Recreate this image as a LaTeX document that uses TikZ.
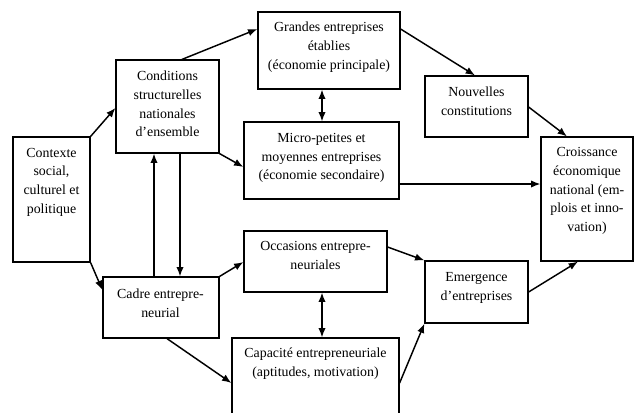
\documentclass[tikz,border=0pt]{standalone}
\usepackage{fontspec}
\setmainfont{Liberation Serif}
\usetikzlibrary{arrows.meta,fit}
\begin{document}
\begin{tikzpicture}[x=0.75pt,y=-0.75pt,
 box/.style={draw,line width=0.9pt,inner sep=0pt},
 txt/.style={align=center,font=\fontsize{10.4}{14}\selectfont,inner sep=0pt},
 arr/.style={-{Latex[length=7pt,width=5.5pt]},line width=1.1pt},
 darr/.style={{Latex[length=7pt,width=5.5pt]}-{Latex[length=7pt,width=5.5pt]},line width=1.1pt}]
\useasboundingbox (0,0) rectangle (635,412);
\clip (0,0) rectangle (635,412);
% boxes
\node[box, fit={(13,137) (90,262)}] (ctx) {};
\node[box, fit={(116,60) (219,153)}] (cond) {};
\node[box, fit={(258,12) (400,89)}] (gde) {};
\node[box, fit={(244,122) (399,199)}] (micro) {};
\node[box, fit={(425,76) (528,137)}] (nouv) {};
\node[box, fit={(541,137) (633,261)}] (crois) {};
\node[box, fit={(103,277) (219,338)}] (cadre) {};
\node[box, fit={(244,231) (387,292)}] (occ) {};
\node[box, fit={(232,338) (399,420)}] (cap) {};
\node[box, fit={(425,261) (528,323)}] (emer) {};
% texts
\node[txt] (ctxt) at (51.5,182) {Contexte\\social,\\culturel et\\politique};
\node[txt] (condt) at (167.5,104) {Conditions\\structurelles\\nationales\\d’ensemble};
\node[txt] (gdet) at (329,47) {Grandes entreprises\\établies\\(économie principale)};
\node[txt] (microt) at (321.5,158) {Micro-petites et\\moyennes entreprises\\(économie secondaire)};
\node[txt] (nouvt) at (476.5,101.5) {Nouvelles\\constitutions};
\node[txt] (croist) at (587,191) {Croissance\\économique\\national (em-\\plois et inno-\\vation)};
\node[txt] (cadret) at (160.5,303.5) {Cadre entrepre-\\neurial};
\node[txt] (occt) at (315.5,255.5) {Occasions entrepre-\\neuriales};
\node[txt] (capt) at (315.5,363.5) {Capacité entrepreneuriale\\(aptitudes, motivation)};
\node[txt] (emert) at (476.5,288) {Emergence\\d’entreprises};
% connectors
\draw[arr] (ctx.north east) -- (cond.west |- 0,108);
\draw[arr] (182,0 |- cond.north) -- (gde.west |- 0,29);
\draw[arr] (cond.south east) -- (micro.west |- 0,167);
\draw[darr] (322,0 |- gde.south) -- (322,0 |- micro.north);
\draw[arr] (gde.east |- 0,29) -- (475,0 |- nouv.north);
\draw[arr] (nouv.east |- 0,107) -- (567,0 |- crois.north);
\draw[arr] (micro.east |- 0,184) -- (crois.west |- 0,184);
\draw[arr] (154,0 |- cadre.north) -- (154,0 |- cond.south);
\draw[arr] (180,0 |- cond.south) -- (180,0 |- cadre.north);
\draw[arr] (ctx.south east) -- (cadre.west |- 0,290);
\draw[arr] (cadre.north east) -- (occ.west |- 0,262);
\draw[arr] (167,0 |- cadre.south) -- (cap.west |- 0,383);
\draw[darr] (322,0 |- occ.south) -- (322,0 |- cap.north);
\draw[arr] (occ.east |- 0,247) -- (emer.north west);
\draw[arr] (cap.east |- 0,383) -- (emer.south west);
\draw[arr] (emer.east |- 0,292) -- (578,0 |- crois.south);
\end{tikzpicture}
\end{document}
